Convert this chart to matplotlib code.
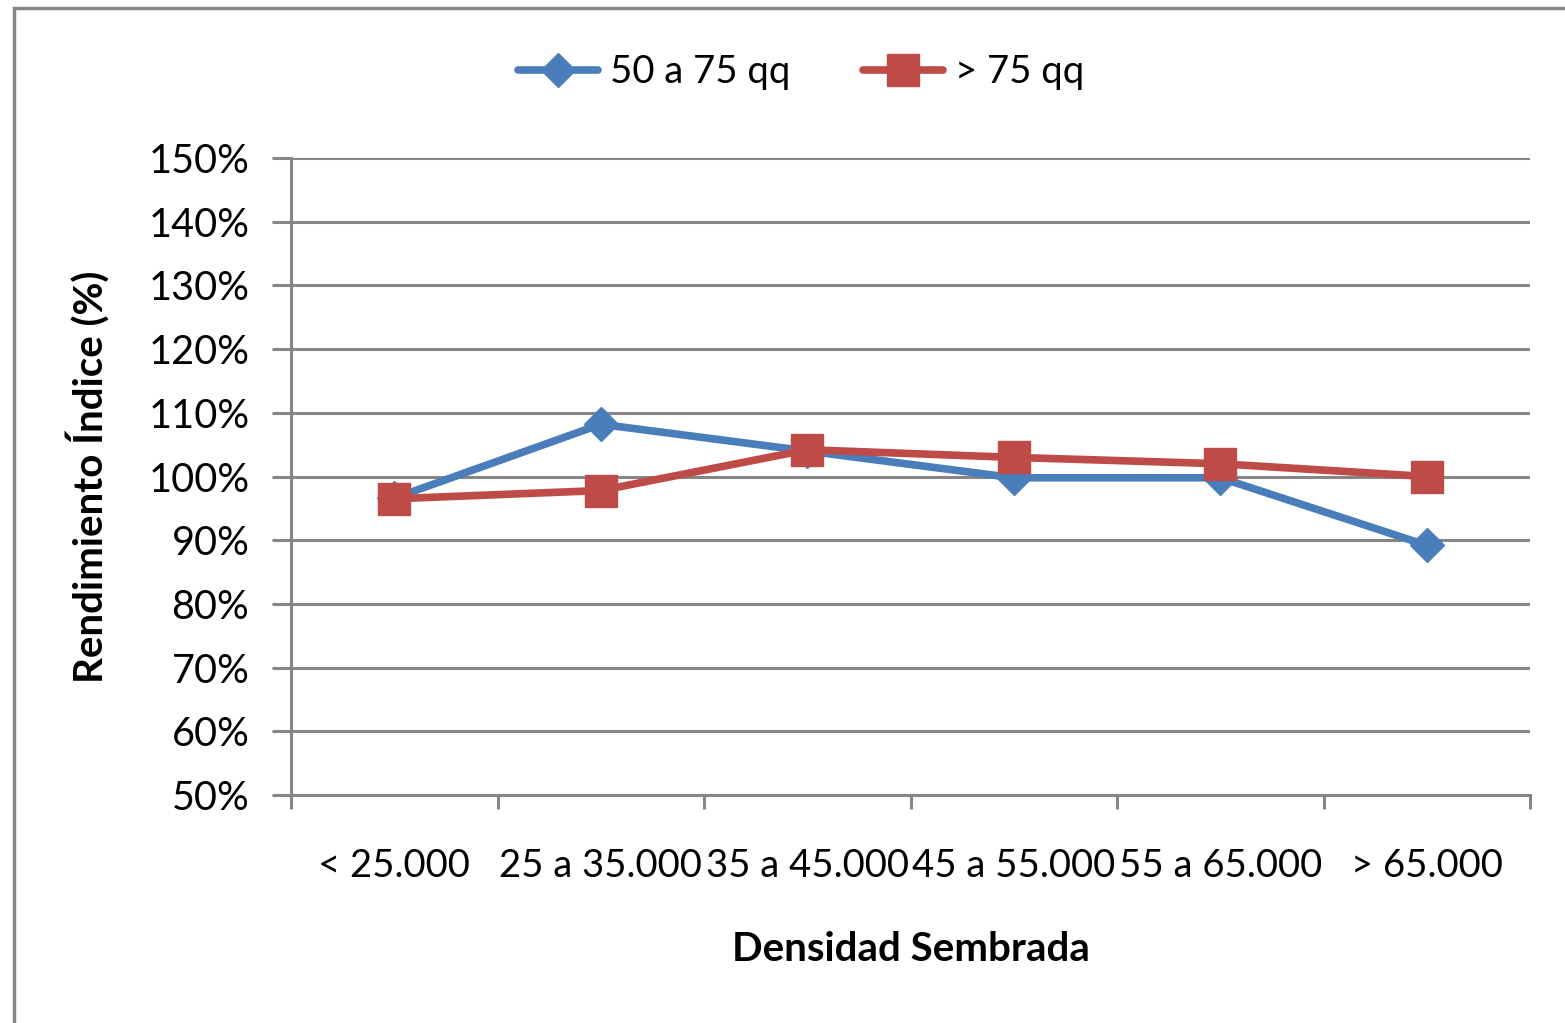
import numpy as np
import matplotlib
matplotlib.use("Agg")
import matplotlib.pyplot as plt
from matplotlib.patches import Rectangle
from matplotlib.ticker import FuncFormatter

plt.rcParams['font.family'] = ['Lato', 'DejaVu Sans']

categories = ["< 25.000", "25 a 35.000", "35 a 45.000", "45 a 55.000", "55 a 65.000", "> 65.000"]
serie_50_75 = [96.6, 108.2, 104.0, 99.8, 99.8, 89.2]
serie_75 = [96.5, 97.8, 104.2, 103.0, 102.0, 100.0]
labels = ["50 a 75 qq", "> 75 qq"]

W, H = 1565, 1023
fig = plt.figure(figsize=(W / 100, H / 100), dpi=100)

# chart border
fig.patches.append(Rectangle((14 / W, -0.01), 1.1, 1 - 8 / H + 0.01, transform=fig.transFigure,
                             fill=False, edgecolor='#868686', linewidth=2.5))

ax = fig.add_axes([291 / W, 1 - 795 / H, (1530 - 291) / W, (795 - 158) / H])
x = np.arange(len(categories))
blue = '#4a7ebb'
red = '#be4b48'
ax.plot(x, serie_50_75, color=blue, lw=5.5, marker='D', ms=17, label=labels[0],
        solid_capstyle='round', zorder=3)
ax.plot(x, serie_75, color=red, lw=5.5, marker='s', ms=23, label=labels[1],
        solid_capstyle='round', zorder=4)

ax.set_xlim(-0.5, len(categories) - 0.5)
ax.set_ylim(50, 150)
ax.set_yticks(np.arange(50, 151, 10))
ax.yaxis.set_major_formatter(FuncFormatter(lambda v, p: f"{v:.0f}%"))
ax.grid(axis='y', color='#868686', lw=2.2)
ax.set_axisbelow(True)

ax.set_xticks(x)
ax.set_xticklabels(categories, fontsize=27.5)
ax.tick_params(axis='x', length=0, pad=38)
ax.set_xticks(np.arange(-0.5, len(categories)), minor=True)
ax.tick_params(axis='x', which='minor', length=10, width=2.2, color='#868686', direction='out')
ax.tick_params(axis='y', labelsize=28.5, length=14, width=2.2, color='#868686', pad=16)

for s in ['top', 'right']:
    ax.spines[s].set_visible(False)
for s in ['left', 'bottom']:
    ax.spines[s].set_color('#868686')
    ax.spines[s].set_linewidth(2.2)

ax.set_xlabel("Densidad Sembrada", fontsize=29, fontweight='bold', labelpad=34)
ax.set_ylabel("Rendimiento Índice (%)", fontsize=29, fontweight='bold', labelpad=28)

fig.legend(loc='center', bbox_to_anchor=(801 / W, 1 - 72 / H), ncol=2, frameon=False,
           fontsize=27.5, handlelength=2.1, columnspacing=1.9, handletextpad=0.3)

fig.savefig("out.png", dpi=100)
